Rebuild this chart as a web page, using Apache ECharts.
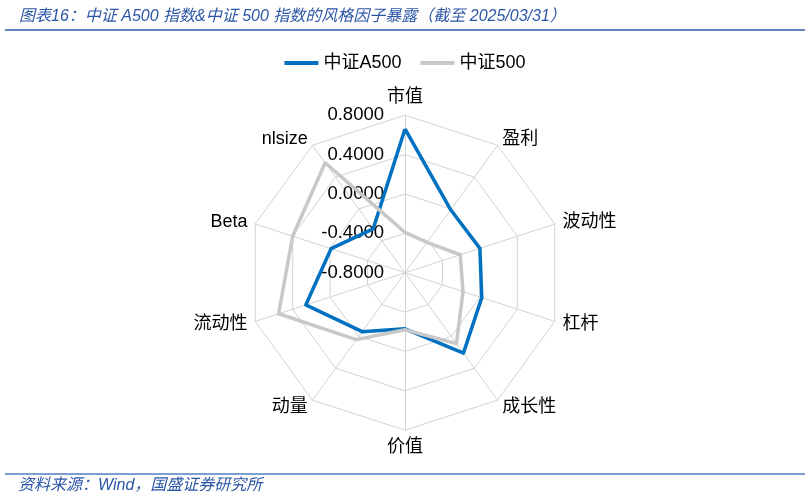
<!DOCTYPE html>
<html>
<head>
<meta charset="utf-8">
<script src="https://cdn.jsdelivr.net/npm/echarts@6/dist/echarts.min.js"></script>
<style>
html,body{margin:0;padding:0;background:#fff;}
#c{width:810px;height:499px;}
</style>
</head>
<body>
<div id="c"></div>
<script>
// indicators, read clockwise from the top
var categories = ['市值', '盈利', '波动性', '杠杆', '成长性', '价值', '动量', '流动性', 'Beta', 'nlsize'];
var seriesNames = ['中证A500', '中证500'];
var a500Values = [0.66, -0.01, 0.00, 0.02, 0.21, -0.23, -0.06, 0.26, -0.01, -0.25];
var csi500Values = [-0.39, -0.42, -0.21, -0.18, 0.09, -0.22, 0.04, 0.55, 0.40, 0.58];
var axisMin = -0.8, axisMax = 0.8, axisSplit = 4;
var titleText = '图表16：中证 A500 指数&中证 500 指数的风格因子暴露（截至 2025/03/31）';
var sourceText = '资料来源：Wind，国盛证券研究所';

// ECharts lays radar indicators counter-clockwise; reorder so they read clockwise
function toCCW(arr) { return [arr[0]].concat(arr.slice(1).reverse()); }

var cjk = '"Liberation Sans", Arial, "Noto Sans CJK SC", sans-serif';
var indicators = toCCW(categories).map(function (n, i) {
  var o = { name: n, min: axisMin, max: axisMax };
  if (i === 0) o.axisLabel = { show: true };
  return o;
});

var chart = echarts.init(document.getElementById('c'));
chart.setOption({
  animation: false,
  backgroundColor: '#fff',
  title: {
    text: titleText,
    left: 14, top: 4,
    textStyle: { fontSize: 16, fontStyle: 'italic', fontWeight: 'normal', color: '#2b56a6', fontFamily: cjk }
  },
  legend: {
    data: seriesNames,
    top: 49, left: 'center',
    icon: 'rect', itemWidth: 34, itemHeight: 4, itemGap: 19,
    textStyle: { fontSize: 18, color: '#000', fontFamily: cjk }
  },
  graphic: [
    { type: 'line', shape: { x1: 5, y1: 30, x2: 805, y2: 30 }, style: { stroke: '#2b5cab', lineWidth: 1.5 } },
    { type: 'line', shape: { x1: 5, y1: 474, x2: 805, y2: 474 }, style: { stroke: '#7a9fd0', lineWidth: 2 } },
    { type: 'text', left: 18, top: 478, style: { text: sourceText, fontSize: 16, fontStyle: 'italic', fill: '#2b56a6', fontFamily: cjk } }
  ],
  radar: {
    center: [405, 272.7],
    radius: 157.5,
    startAngle: 90,
    splitNumber: axisSplit,
    shape: 'polygon',
    indicator: indicators,
    nameGap: 8,
    axisName: { color: '#000', fontSize: 18, fontFamily: cjk },
    splitLine: { lineStyle: { color: '#d3d3d3', width: 1 } },
    splitArea: { show: false },
    axisLine: { lineStyle: { color: '#d3d3d3', width: 1 } },
    axisTick: { show: false },
    axisLabel: {
      show: false,
      showMinLabel: true, showMaxLabel: true,
      margin: 21,
      padding: [4, 0, 0, 0],
      fontSize: 18.5, color: '#000', fontFamily: '"Liberation Sans", Arial, sans-serif',
      formatter: function (v) { return v.toFixed(4); }
    }
  },
  series: [{
    type: 'radar',
    symbol: 'none',
    data: [
      { name: seriesNames[0], value: toCCW(a500Values), itemStyle: { color: '#0070c0' }, lineStyle: { color: '#0070c0', width: 3.5 } },
      { name: seriesNames[1], value: toCCW(csi500Values), itemStyle: { color: '#c8c8c8' }, lineStyle: { color: '#c8c8c8', width: 3.5 } }
    ]
  }]
});
</script>
</body>
</html>
